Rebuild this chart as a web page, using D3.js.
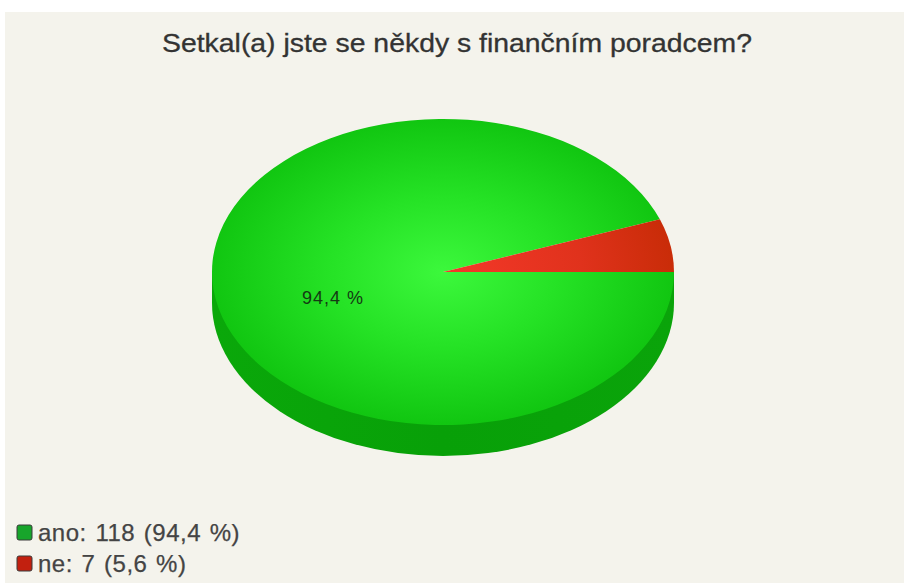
<!DOCTYPE html>
<html lang="cs">
<head>
<meta charset="utf-8">
<script src="https://cdn.jsdelivr.net/npm/d3@7"></script>
<style>
html,body{margin:0;padding:0;background:#fff;}
svg{display:block;}
text{font-family:"Liberation Sans",Arial,sans-serif;}
</style>
</head>
<body>
<svg id="chart" width="904" height="583"></svg>
<script>
// Survey answers
const title = "Setkal(a) jste se někdy s finančním poradcem?";
const categories = ["ano", "ne"];
const counts = [118, 7];
const shares = ["94,4", "5,6"];

const svg = d3.select("#chart");
const defs = svg.append("defs");

// Pie geometry: a tilted disc with a visible rim
const cx = 443, cy = 272, rx = 231, ry = 153, depth = 31;

function radial(id, stops) {
  const g = defs.append("radialGradient")
    .attr("id", id)
    .attr("gradientUnits", "userSpaceOnUse")
    .attr("cx", 0).attr("cy", 0).attr("r", rx);
  stops.forEach(([o, c]) => g.append("stop").attr("offset", o).attr("stop-color", c));
}
radial("sliceAno", [[0, "#3cf83c"], [0.5, "#25e225"], [1, "#11c611"]]);
radial("sliceNe", [[0, "#f5382a"], [0.6, "#e0321c"], [1, "#c92c08"]]);
const rim = defs.append("linearGradient").attr("id", "rimAno");
[[0, "#0aa80a"], [0.5, "#08a008"], [1, "#0aa40a"]].forEach(([o, c]) =>
  rim.append("stop").attr("offset", o).attr("stop-color", c));

svg.append("rect")
  .attr("x", 5).attr("y", 12).attr("width", 899).attr("height", 571)
  .attr("fill", "#f4f3ec");

svg.append("text")
  .attr("x", 457).attr("y", 52)
  .attr("text-anchor", "middle")
  .attr("font-size", 26)
  .attr("textLength", 590)
  .attr("lengthAdjust", "spacingAndGlyphs")
  .attr("fill", "#333")
  .attr("stroke", "#333").attr("stroke-width", 0.3)
  .text(title);

const fills = ["url(#sliceAno)", "url(#sliceNe)"];

const pie = d3.pie().sort(null)
  .startAngle(Math.PI / 2)
  .endAngle(Math.PI / 2 + 2 * Math.PI);
const arcs = pie(counts);
const arc = d3.arc().innerRadius(0).outerRadius(rx);

// Rim: the lower half of the disc pushed down by the rim depth
const lowerHalf = d3.arc().innerRadius(0).outerRadius(rx)
  .startAngle(Math.PI / 2).endAngle(3 * Math.PI / 2)();
svg.append("rect")
  .attr("x", cx - rx).attr("y", cy)
  .attr("width", 2 * rx).attr("height", depth)
  .attr("fill", "url(#rimAno)");
svg.append("path")
  .attr("d", lowerHalf)
  .attr("transform", `translate(${cx},${cy + depth}) scale(1,${ry / rx})`)
  .attr("fill", "url(#rimAno)");

// Top face
svg.append("g")
  .attr("transform", `translate(${cx},${cy}) scale(1,${ry / rx})`)
  .selectAll("path")
  .data(arcs)
  .join("path")
  .attr("d", arc)
  .attr("fill", (d, i) => fills[i]);

// Share label on the large slice
svg.append("text")
  .attr("x", 333).attr("y", 304)
  .attr("text-anchor", "middle")
  .attr("font-size", 18)
  .attr("letter-spacing", 1)
  .attr("fill", "#143a14")
  .text(`${shares[0]} %`);

// Legend
const legendFills = ["#17a52b", "#c2200f"];
const legend = svg.append("g")
  .selectAll("g")
  .data(categories)
  .join("g")
  .attr("transform", (d, i) => `translate(0,${533 + i * 31})`);
legend.append("rect")
  .attr("x", 17).attr("y", -8)
  .attr("width", 15).attr("height", 15).attr("rx", 2)
  .attr("fill", (d, i) => legendFills[i])
  .attr("stroke", "#3a3a3a").attr("stroke-width", 1);
legend.append("text")
  .attr("x", 38).attr("y", 8)
  .attr("font-size", 24)
  .attr("letter-spacing", 0.5)
  .attr("word-spacing", 1.5)
  .attr("fill", "#444")
  .attr("stroke", "#444").attr("stroke-width", 0.25)
  .text((d, i) => `${d}: ${counts[i]} (${shares[i]} %)`);
</script>
</body>
</html>
